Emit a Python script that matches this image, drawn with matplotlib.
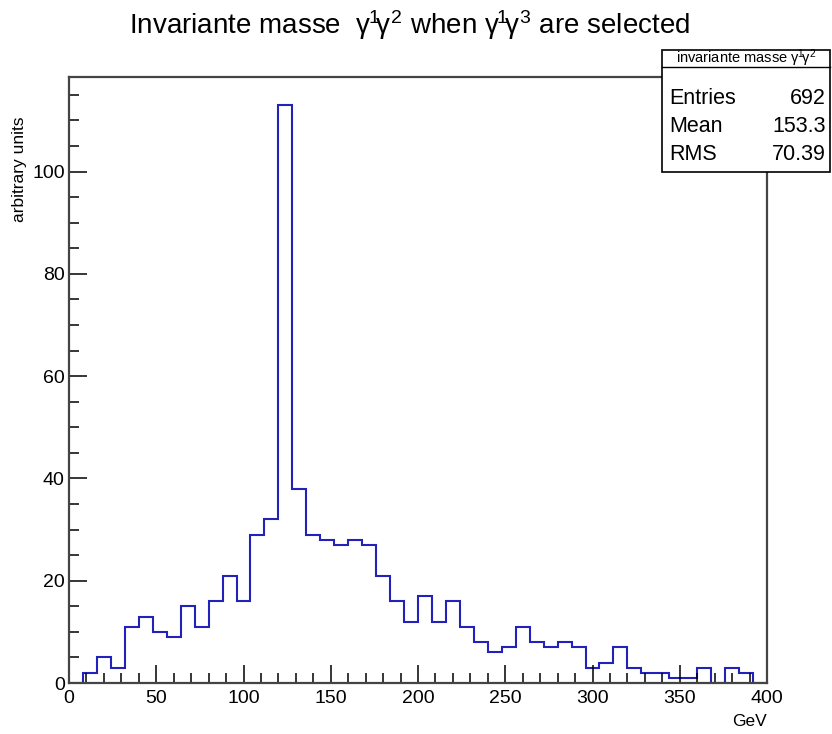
import matplotlib
matplotlib.use('Agg')
import matplotlib.pyplot as plt
from matplotlib.patches import Rectangle
from matplotlib.lines import Line2D
import numpy as np

plt.rcParams['font.family'] = ['Liberation Sans', 'DejaVu Sans']
plt.rcParams['mathtext.fontset'] = 'custom'
plt.rcParams['mathtext.rm'] = 'Liberation Sans'
plt.rcParams['mathtext.it'] = 'Liberation Sans'

# 50 bins of 8 GeV between 0 and 400
bin_edges = np.arange(0, 401, 8)
counts = [0, 2, 5, 3, 11, 13, 10, 9, 15, 11,
          16, 21, 16, 29, 32, 113, 38, 29, 28, 27,
          28, 27, 21, 16, 12, 17, 12, 16, 11, 8,
          6, 7, 11, 8, 7, 8, 7, 3, 4, 7,
          3, 2, 2, 1, 1, 3, 0, 3, 2, 0]

stats_name = r'invariante masse $\gamma^{\!1}\!\gamma^{2}$'
stats_rows = [('Entries', '692'), ('Mean', '153.3'), ('RMS', '70.39')]

W, H = 832, 734
fig = plt.figure(figsize=(W / 100, H / 100), dpi=100)
ax = fig.add_axes([69 / W, 1 - 683 / H, (767 - 69) / W, (683 - 77) / H])

ax.stairs(counts, bin_edges, color='#2222bb', lw=1.5)

ax.set_xlim(0, 400)
ax.set_ylim(0, 118.5)
ax.set_xticks(np.arange(0, 401, 50))
ax.set_xticks(np.arange(0, 401, 10), minor=True)
ax.set_yticks(np.arange(0, 101, 20))
ax.set_yticks(np.arange(0, 116, 5), minor=True)
ax.tick_params(direction='in', which='both', top=False, right=False,
               labelsize=14, color='black', width=1.1)
ax.tick_params(axis='x', which='major', length=13, pad=5)
ax.tick_params(axis='x', which='minor', length=7)
ax.tick_params(axis='y', which='major', length=13, pad=3)
ax.tick_params(axis='y', which='minor', length=7)
for s in ax.spines.values():
    s.set_color('#444444')
    s.set_linewidth(1.6)

sup = dict(fontsize=20)
fig.text(410 / W, 1 - 25 / H,
         r'Invariante masse  $\gamma^{\!1}\!\gamma^{2}$ when $\gamma^{\!1}\!\gamma^{3}$ are selected',
         ha='center', va='center', **sup)
fig.text(767 / W, 1 - 722 / H, 'GeV', ha='right', va='center', fontsize=12.5)
fig.text(20 / W, 1 - 116 / H, 'arbitrary units', ha='center', va='top',
         rotation=90, fontsize=12.5)

# statistics box
x0, x1 = 662, 830
y0, yh, y1 = 50, 67, 172
fig.add_artist(Rectangle((x0 / W, 1 - y1 / H), (x1 - x0) / W, (y1 - y0) / H,
                         transform=fig.transFigure, facecolor='white',
                         edgecolor='black', lw=1.2, zorder=5))
fig.add_artist(Line2D([x0 / W, x1 / W], [1 - yh / H, 1 - yh / H],
                      transform=fig.transFigure, color='black', lw=1.0, zorder=6))
fig.text((x0 + x1) / 2 / W, 1 - 58 / H, stats_name, ha='center', va='center',
         fontsize=10.5, zorder=7)
for i, (name, val) in enumerate(stats_rows):
    yc = 1 - (98 + 28.5 * i) / H
    fig.text((x0 + 7) / W, yc, name, ha='left', va='center', fontsize=15.5, zorder=7)
    fig.text((x1 - 4) / W, yc, val, ha='right', va='center', fontsize=15.5, zorder=7)

fig.savefig('out.png', dpi=100)
